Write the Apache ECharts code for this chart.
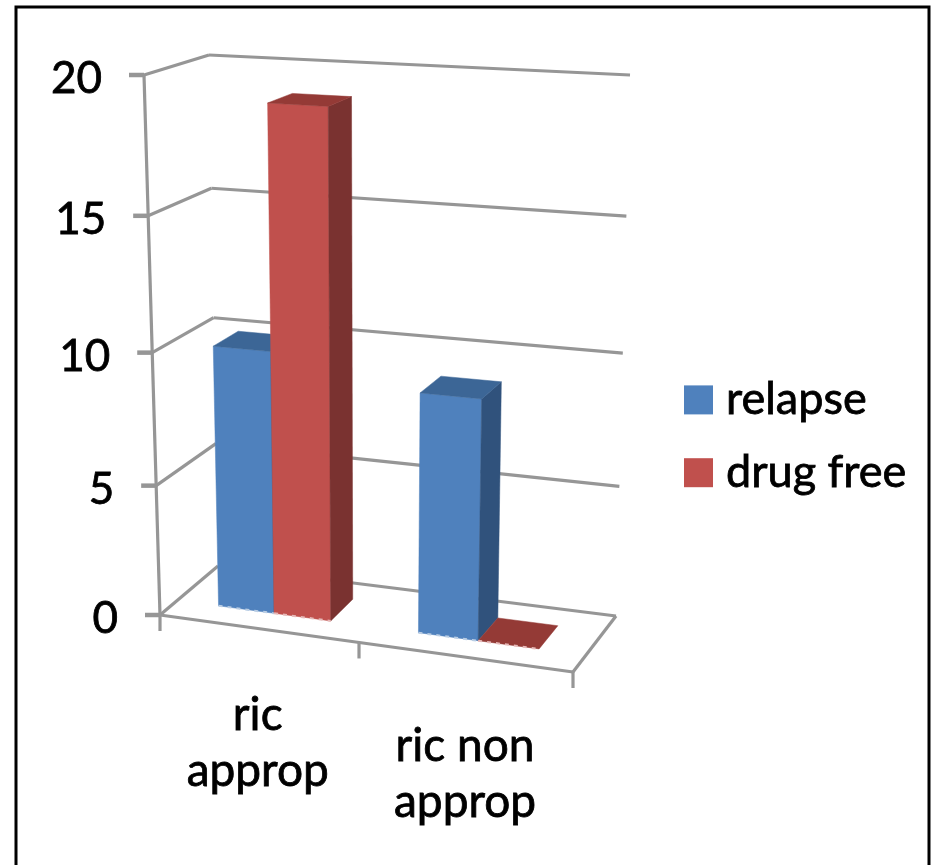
<!DOCTYPE html>
<html>
<head>
<meta charset="utf-8">
<style>html,body{margin:0;padding:0;background:#fff}#c{width:933px;height:865px}</style>
<script src="https://cdn.jsdelivr.net/npm/echarts@6/dist/echarts.min.js"></script>
</head>
<body>
<div id="c"></div>
<script>
const categories = ['ric\napprop', 'ric non\napprop'];
const relapse = [10, 9];
const drugFree = [19, 0];
const yTicks = [0, 5, 10, 15, 20];

const FONT = 'Lato';
const GRID = {left: 100, top: 100, width: 400, height: 400};
// corners of the 3D box on screen: key = u (right), v (up), w (back)
const BOX = {
  '000': [160, 615], '100': [573, 672], '010': [144, 75], '110': [590, 100],
  '001': [218, 566], '101': [616, 616], '011': [209, 55], '111': [630, 75]
};
const H_U = 0.93, H_V = 0.945;
const DEPTH = [0.3, 0.72];
const BAR_FRAC = 0.57;
const LABEL_OFFSET = [[0, 115], [1, 117]];

function warp(t, h) { return t * h / (1 + t * (h - 1)); }
function project(u, v, w) {
  const a = warp(u, H_U), b = warp(v, H_V);
  const out = [0, 0];
  for (let i = 0; i < 2; i++) {
    const lerp = (p, q, t) => p + (q - p) * t;
    const f = lerp(lerp(BOX['000'][i], BOX['100'][i], a), lerp(BOX['010'][i], BOX['110'][i], a), b);
    const k = lerp(lerp(BOX['001'][i], BOX['101'][i], a), lerp(BOX['011'][i], BOX['111'][i], a), b);
    out[i] = lerp(f, k, w);
  }
  return out;
}
function unit(api, c, val) {
  const p = api.coord([c, val]);
  return [(p[0] - GRID.left) / GRID.width, (GRID.top + GRID.height - p[1]) / GRID.height];
}
const LINE = {stroke: '#969696', lineWidth: 3.2, fill: null};
function seg(a, b, width) {
  return {type: 'line', shape: {x1: a[0], y1: a[1], x2: b[0], y2: b[1]},
          style: Object.assign({}, LINE, width ? {lineWidth: width} : {})};
}
function renderTick(params, api) {
  const val = api.value(1);
  const v = unit(api, 0, val)[1];
  const fl = project(0, v, 0), bl = project(0, v, 1), br = project(1, v, 1);
  const kids = [
    seg(fl, bl), seg(bl, br),
    seg([fl[0] - 15, fl[1]], fl, 4.5),
    {type: 'text', style: {text: String(val), x: fl[0] - 42, y: fl[1] + 4, align: 'right',
      verticalAlign: 'middle', font: '44px ' + FONT, fill: '#000', stroke: '#000', lineWidth: 0.8}}
  ];
  if (val === 0) {
    const fr = project(1, 0, 0), mid = project(0.5, 0, 0);
    kids.push(seg(fl, fr), seg(fr, br));
    [fl, mid, fr].forEach(p => kids.push(seg(p, [p[0], p[1] + 16])));
    kids.push(seg(project(0, 0, 0), project(0, 1, 0)));
  }
  return {type: 'group', children: kids};
}
function renderCat(params, api) {
  const i = api.value(0);
  const u = unit(api, i, 0)[0];
  const p = project(u, 0, 0);
  const off = LABEL_OFFSET[i];
  return {type: 'text', style: {text: categories[i], x: p[0] + off[0], y: p[1] + off[1], align: 'center',
    verticalAlign: 'middle', font: '46px ' + FONT, lineHeight: 56, fill: '#000', stroke: '#000', lineWidth: 0.8}};
}
function bars(seriesIdx, colors, edge) {
  return function (params, api) {
    const c = api.value(0), val = api.value(1);
    const pt = unit(api, c, val);
    const band = api.size([1, 0])[0] / GRID.width;
    const bw = band * BAR_FRAC / 2;
    const u0 = pt[0] + (seriesIdx - 1) * bw, u1 = u0 + bw, v = pt[1];
    const [w0, w1] = DEPTH;
    const poly = (pts, fill) => ({type: 'polygon', shape: {points: pts},
      style: {fill: fill, stroke: fill, lineWidth: 0.5}});
    const kids = [];
    if (val > 0) {
      kids.push(poly([project(u0, 0, w0), project(u1, 0, w0), project(u1, v, w0), project(u0, v, w0)], colors[0]));
      kids.push(poly([project(u1, 0, w0), project(u1, 0, w1), project(u1, v, w1), project(u1, v, w0)], colors[2]));
    }
    kids.push(poly([project(u0, v, w0), project(u1, v, w0), project(u1, v, w1), project(u0, v, w1)], colors[1]));
    const a = project(u0, 0, w0), b = project(u1, 0, w0);
    kids.push({type: 'line', shape: {x1: a[0], y1: a[1], x2: b[0], y2: b[1]},
      style: {stroke: edge, lineWidth: 2, lineDash: [4, 5]}});
    return {type: 'group', children: kids};
  };
}
const chart = echarts.init(document.getElementById('c'), null, {renderer: 'canvas'});
chart.setOption({
  animation: false,
  backgroundColor: '#fff',
  grid: GRID,
  xAxis: {type: 'category', data: categories, show: false},
  yAxis: {type: 'value', min: 0, max: 20, interval: 5, show: false},
  legend: {
    orient: 'vertical', left: 679, top: 372, itemWidth: 29, itemHeight: 29, itemGap: 27,
    icon: 'rect', data: ['relapse', 'drug free'],
    textStyle: {fontFamily: FONT, fontSize: 45, lineHeight: 28, color: '#000',
      textBorderColor: '#000', textBorderWidth: 0.8, padding: [0, 0, 0, 8]}
  },
  graphic: [{type: 'polyline', silent: true, z: 10,
    shape: {points: [[16, 865], [16, 7], [929, 7], [929, 865]]},
    style: {stroke: '#000', lineWidth: 3, fill: null}}],
  series: [
    {type: 'custom', name: 'axes', renderItem: renderTick, data: yTicks.map(v => [0, v]), z: 1, silent: true},
    {type: 'custom', name: 'categories', renderItem: renderCat, data: categories.map((c, i) => [i, 0]), z: 1, silent: true},
    {type: 'custom', name: 'relapse', renderItem: bars(0, ['#4f81bd', '#3c6696', '#30527c'], '#b9cde4'),
      itemStyle: {color: '#4f81bd'}, data: relapse.map((v, i) => [i, v]), z: 2},
    {type: 'custom', name: 'drug free', renderItem: bars(1, ['#c0504d', '#943a36', '#7a3230'], '#e6b9b8'),
      itemStyle: {color: '#c0504d'}, data: drugFree.map((v, i) => [i, v]), z: 3}
  ]
});
</script>
</body>
</html>
